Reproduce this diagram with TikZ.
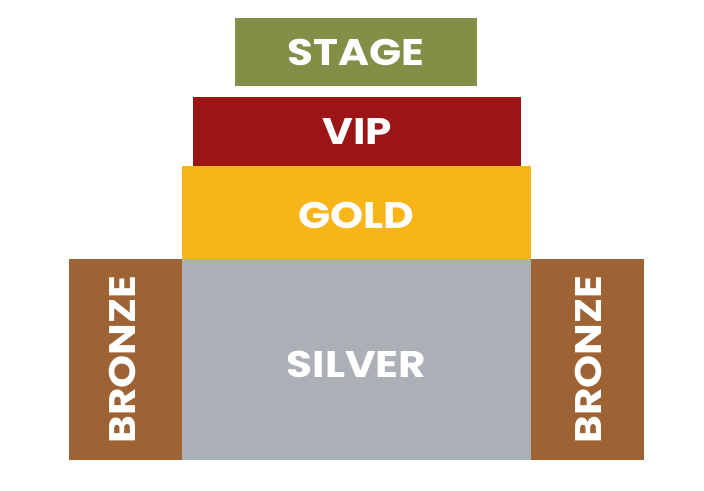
\documentclass[tikz,border=0pt]{standalone}
\usepackage{fontspec}
\setmainfont{Poppins}[BoldFont={* Bold}, BoldFeatures={FakeStretch=1.14}]
\definecolor{stagegreen}{HTML}{818F47}
\definecolor{vipred}{HTML}{9B1416}
\definecolor{goldyellow}{HTML}{F7B519}
\definecolor{silvergray}{HTML}{AAB0B6}
\definecolor{bronzebrown}{HTML}{9E6334}
\begin{document}
\begin{tikzpicture}[x=1pt, y=-1pt, section/.style={rectangle, draw=none, inner sep=0pt, text=white, font=\fontsize{37}{40}\selectfont\bfseries}, side/.style={section, fill=bronzebrown, minimum width=113pt, minimum height=201pt}, sidelabel/.style={section, rotate=90}]
    \useasboundingbox (0,0) rectangle (704,490);
    \node[section, fill=stagegreen, minimum width=242pt, minimum height=68pt](stage) at (356,52){STAGE};
    \node[section, fill=vipred, minimum width=328pt, minimum height=69pt](vip) at (357,131.5){VIP};
    \node[section, fill=goldyellow, minimum width=349pt, minimum height=93pt, text height=32pt, text depth=0pt](gold) at (356.5,212.5){GOLD};
    \node[section, fill=silvergray, minimum width=349pt, minimum height=201pt, text height=35pt, text depth=0pt](silver) at (356.5,359.5){SILVER};
    \node[side](bronzeL) at (125.5,359.5){};
    \node[side](bronzeR) at (587,359.5){};
    \node[sidelabel](bronzeLtext) at (122.5,359.5){BRONZE};
    \node[sidelabel](bronzeRtext) at (588.5,359.5){BRONZE};
\end{tikzpicture}
\end{document}
